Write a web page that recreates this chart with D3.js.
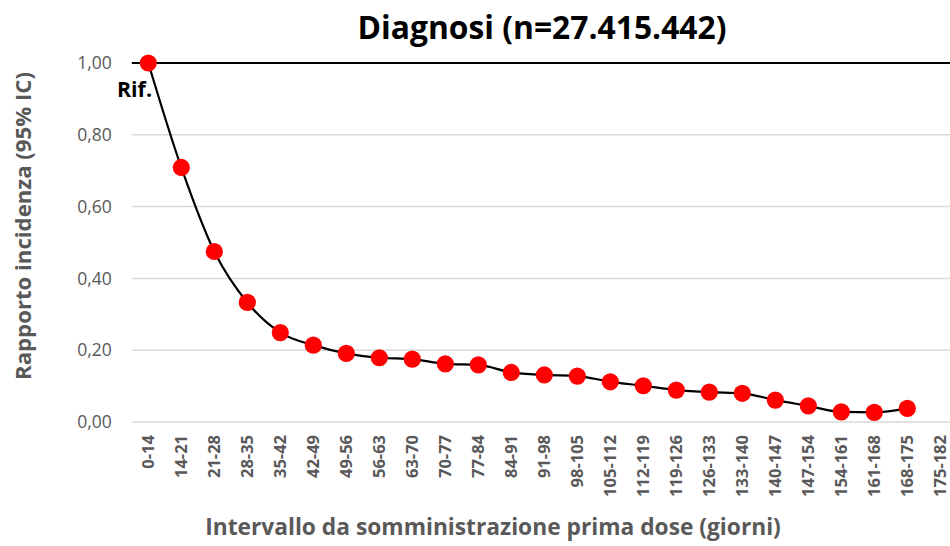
<!DOCTYPE html>
<html>
<head>
<meta charset="utf-8">
<script src="https://cdn.jsdelivr.net/npm/d3@7/dist/d3.min.js"></script>
<style>
  html, body { margin: 0; padding: 0; background: #fff; }
  svg { display: block; font-family: "Open Sans", sans-serif; }
</style>
</head>
<body>
<svg id="chart" width="950" height="546"></svg>
<script>
// ---- data ----
const categories = ["0-14","14-21","21-28","28-35","35-42","42-49","49-56","56-63","63-70","70-77","77-84","84-91","91-98","98-105","105-112","112-119","119-126","126-133","133-140","140-147","147-154","154-161","161-168","168-175","175-182"];
const values = [1.000,0.709,0.475,0.333,0.249,0.214,0.191,0.179,0.175,0.162,0.159,0.138,0.131,0.128,0.112,0.101,0.089,0.083,0.080,0.061,0.045,0.028,0.027,0.038];
const yTicks = [0,0.2,0.4,0.6,0.8,1.0];
const referenceValue = 1.0;
const titleText = "Diagnosi (n=27.415.442)";
const yTitleText = "Rapporto incidenza (95% IC)";
const xTitleText = "Intervallo da somministrazione prima dose (giorni)";
const refLabel = "Rif.";

// ---- layout ----
const W = 950, H = 546;
const plotLeft = 131.8, step = 33.0;
const svg = d3.select("#chart");

const x = d3.scaleBand().domain(categories).range([plotLeft, plotLeft + step * categories.length]).padding(0);
const y = d3.scaleLinear().domain([0, 1]).range([422, 63]);
const cx = c => x(c) + x.bandwidth() / 2;

const itFormat = d3.formatLocale({decimal: ",", thousands: ".", grouping: [3], currency: ["€",""]}).format(".2f");

function fitWidth(sel, target) {
  const node = sel.node();
  const fs = parseFloat(sel.attr("font-size"));
  const len = node.getComputedTextLength();
  sel.attr("font-size", (fs * target / len).toFixed(2));
}

// gridlines
svg.append("g").selectAll("line").data(yTicks.filter(t => t !== referenceValue)).join("line")
  .attr("x1", plotLeft).attr("x2", W)
  .attr("y1", d => y(d)).attr("y2", d => y(d))
  .attr("stroke", "#d9d9d9").attr("stroke-width", 1.5);

// reference line
svg.append("line")
  .attr("x1", plotLeft).attr("x2", W)
  .attr("y1", y(referenceValue)).attr("y2", y(referenceValue))
  .attr("stroke", "#000").attr("stroke-width", 2.2);

// y axis labels
const yAxis = d3.axisLeft(y).tickValues(yTicks).tickFormat(itFormat).tickSize(0).tickPadding(20);
const gy = svg.append("g").attr("transform", `translate(${plotLeft},0)`).call(yAxis);
gy.select(".domain").remove();
gy.selectAll("text").attr("font-size", 17.5).attr("fill", "#595959").attr("font-family", "Open Sans, sans-serif");

// x axis labels
const xAxis = d3.axisBottom(x).tickSize(0).tickPadding(0);
const gx = svg.append("g").attr("transform", `translate(0,${y(0)})`).call(xAxis);
gx.select(".domain").remove();
gx.selectAll("text")
  .attr("font-size", 16.5).attr("font-weight", "bold").attr("fill", "#595959")
  .attr("font-family", "Open Sans, sans-serif")
  .attr("text-anchor", "end")
  .attr("transform", "translate(0,13) rotate(-90)")
  .attr("x", 0).attr("y", 0).attr("dy", "0.36em");

// line
const pts = values.map((v, i) => [cx(categories[i]), y(v)]);
svg.append("path")
  .attr("d", d3.line().curve(d3.curveMonotoneX)(pts))
  .attr("fill", "none").attr("stroke", "#000").attr("stroke-width", 2.2);

// markers
svg.append("g").selectAll("circle").data(values).join("circle")
  .attr("cx", (d, i) => cx(categories[i]))
  .attr("cy", d => y(d))
  .attr("r", 8.6)
  .attr("fill", "#ff0000");

// Rif. label
const rif = svg.append("text").attr("x", 117).attr("y", 97)
  .attr("font-size", 21).attr("font-weight", "bold").attr("fill", "#000").text(refLabel);
fitWidth(rif, 35);

// title
const title = svg.append("text").attr("x", 542).attr("y", 39).attr("text-anchor", "middle")
  .attr("font-size", 33).attr("font-weight", "bold").attr("fill", "#000").text(titleText);
fitWidth(title, 369);

// y title
const yt = svg.append("text").attr("transform", "translate(31,226) rotate(-90)")
  .attr("text-anchor", "middle").attr("font-size", 20).attr("font-weight", "bold")
  .attr("fill", "#595959").text(yTitleText);
fitWidth(yt, 308);

// x title
const xt = svg.append("text").attr("x", 493).attr("y", 535).attr("text-anchor", "middle")
  .attr("font-size", 20).attr("font-weight", "bold").attr("fill", "#595959").text(xTitleText);
fitWidth(xt, 576);
</script>
</body>
</html>
